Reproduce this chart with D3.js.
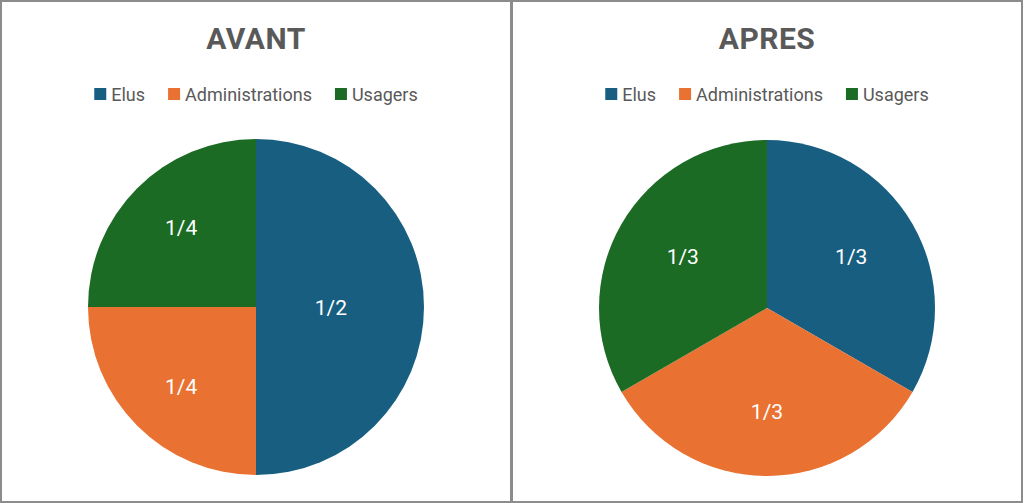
<!DOCTYPE html>
<html><head><meta charset="utf-8">
<script src="https://cdn.jsdelivr.net/npm/d3@7"></script>
<style>body{margin:0;background:#fff}svg{display:block}</style>
</head><body>
<script>
const categories = ["Elus", "Administrations", "Usagers"];
const colors = ["#175E81", "#E97132", "#1B6B24"];
const titles = ["AVANT", "APRES"];
const valuesAvant = [2, 1, 1];
const valuesApres = [1, 1, 1];
const labelsAvant = ["1/2", "1/4", "1/4"];
const labelsApres = ["1/3", "1/3", "1/3"];

const W = 1024, H = 503;
const svg = d3.select("body").append("svg").attr("width", W).attr("height", H);
const font = "Roboto, 'Noto Sans', sans-serif";

const panels = [
  {x: 1, w: 510, title: titles[0], values: valuesAvant, labels: labelsAvant, cx: 256, cy: 307},
  {x: 512, w: 510, title: titles[1], values: valuesApres, labels: labelsApres, cx: 767, cy: 308}
];
const r = 168;
const color = d3.scaleOrdinal().domain(categories).range(colors);
const pie = d3.pie().sort(null).value(d => d.v);
const arc = d3.arc().innerRadius(0).outerRadius(r);

panels.forEach(p => {
  const g = svg.append("g");
  g.append("rect").attr("x", p.x).attr("y", 1).attr("width", p.w).attr("height", H - 2)
    .attr("fill", "#fff").attr("stroke", "#8c8c8c").attr("stroke-width", 2);
  g.append("text").attr("x", p.cx).attr("y", 49).attr("text-anchor", "middle")
    .attr("font-family", font).attr("font-weight", "bold").attr("font-size", 30)
    .attr("fill", "#595959").attr("letter-spacing", 0.5).text(p.title);

  const leg = g.append("g");
  let xx = 0;
  const fs = 18;
  categories.forEach((c, i) => {
    const e = leg.append("g").attr("transform", `translate(${xx},0)`);
    e.append("rect").attr("x", 0).attr("y", -6).attr("width", 12).attr("height", 12).attr("fill", color(c));
    const t = e.append("text").attr("x", 17).attr("y", 1).attr("dy", "0.35em")
      .attr("font-family", font).attr("font-size", fs).attr("fill", "#595959").text(c);
    const tw = t.node().getComputedTextLength();
    xx += 17 + tw + 23;
  });
  const totalW = xx - 23;
  leg.attr("transform", `translate(${p.cx - totalW / 2},94)`);

  const data = categories.map((c, i) => ({c, v: p.values[i], l: p.labels[i]}));
  const arcs = pie(data);
  const pg = g.append("g").attr("transform", `translate(${p.cx},${p.cy})`);
  pg.selectAll("path").data(arcs).join("path").attr("d", arc).attr("fill", d => color(d.data.c));
  pg.selectAll("text").data(arcs).join("text")
    .attr("transform", d => {
      const th = d.endAngle - d.startAngle;
      const dist = 4 * r * Math.sin(th / 2) / (3 * th);
      const a = (d.startAngle + d.endAngle) / 2;
      return `translate(${1.05 * dist * Math.sin(a)},${-1.12 * dist * Math.cos(a)})`;
    })
    .attr("text-anchor", "middle").attr("dy", "0.36em")
    .attr("font-family", font).attr("font-size", 21).attr("fill", "#fff").text(d => d.data.l);
});
</script>
</body></html>
